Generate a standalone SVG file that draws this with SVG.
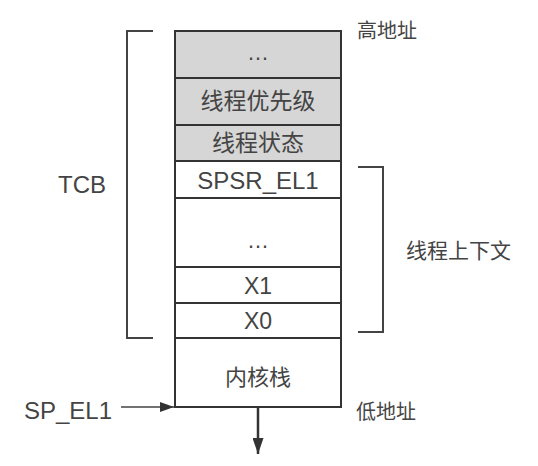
<svg xmlns="http://www.w3.org/2000/svg" width="538" height="466" viewBox="0 0 538 466">
<defs>
<style>
.t{font-family:"Liberation Sans","Noto Sans CJK SC",sans-serif;fill:#444;text-anchor:middle;dominant-baseline:central}
.l{text-anchor:start}
.cell{stroke:#333;stroke-width:2}
.g{fill:#d6d6d6}
.w{fill:#fff}
.br{fill:none;stroke:#444;stroke-width:2}
</style>
<marker id="ah" viewBox="0 0 14 10" refX="14" refY="5" markerWidth="14" markerHeight="10" markerUnits="userSpaceOnUse" orient="auto"><path d="M0,0L14,5L0,10z" fill="#333"/></marker>
<marker id="ah2" viewBox="0 0 16 11" refX="16" refY="5.5" markerWidth="16" markerHeight="11" markerUnits="userSpaceOnUse" orient="auto"><path d="M0,0L16,5.5L0,11z" fill="#333"/></marker>
</defs>
<rect width="538" height="466" fill="#fff"/>
<g id="row-dots-top"><rect class="cell g" x="175" y="31" width="166" height="47"/><text class="t" x="258" y="52" font-size="22">…</text></g>
<g id="row-priority"><rect class="cell g" x="175" y="78" width="166" height="47"/><text class="t" x="258" y="101" font-size="23">线程优先级</text></g>
<g id="row-state"><rect class="cell g" x="175" y="125" width="166" height="36"/><text class="t" x="258" y="143" font-size="23">线程状态</text></g>
<g id="row-spsr"><rect class="cell w" x="175" y="161" width="166" height="37"/><text class="t" x="258" y="180" font-size="24">SPSR_EL1</text></g>
<g id="row-dots"><rect class="cell w" x="175" y="198" width="166" height="69"/><text class="t" x="258" y="240" font-size="22">…</text></g>
<g id="row-x1"><rect class="cell w" x="175" y="267" width="166" height="36"/><text class="t" x="258" y="286" font-size="23">X1</text></g>
<g id="row-x0"><rect class="cell w" x="175" y="303" width="166" height="35"/><text class="t" x="258" y="321" font-size="23">X0</text></g>
<g id="row-kstack"><rect class="cell w" x="175" y="338" width="166" height="69"/><text class="t" x="258" y="377" font-size="22">内核栈</text></g>
<g id="tcb"><path class="br" d="M153,31H127V338H153"/><text class="t" x="82" y="184" font-size="24">TCB</text></g>
<g id="ctx"><path class="br" d="M358,167H383V332H358"/><text class="t l" x="406" y="250" font-size="21">线程上下文</text></g>
<g id="labels"><text class="t l" x="357" y="31" font-size="20">高地址</text><text class="t l" x="356" y="412" font-size="20">低地址</text><text class="t" x="68" y="410" font-size="24">SP_EL1</text></g>
<g id="connectors">
<line x1="121" y1="407" x2="174" y2="407" stroke="#444" stroke-width="1.5" marker-end="url(#ah)"/>
<line x1="258" y1="408" x2="258" y2="454" stroke="#333" stroke-width="2.5" marker-end="url(#ah2)"/>
</g>
</svg>
